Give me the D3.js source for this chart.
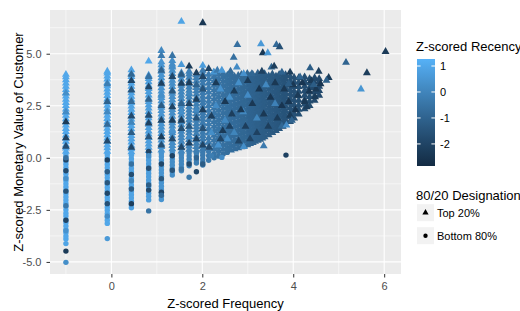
<!DOCTYPE html>
<html><head><meta charset="utf-8">
<script src="https://cdn.jsdelivr.net/npm/d3@7"></script>
<style>
html,body{margin:0;padding:0;background:#fff;}
svg{display:block;font-family:"Liberation Sans",Arial,Helvetica,sans-serif;}
</style></head><body>
<svg id="chart" width="520" height="311"></svg>
<script>
// ---- tick labels / text ----
const xTicks = [0, 2, 4, 6];
const xMinor = [-1, 1, 3, 5];
const yTicks = [-5, -2.5, 0, 2.5, 5];
const yMinor = [-3.75, -1.25, 1.25, 3.75, 6.25];
const recencyTicks = [1, 0, -1, -2];
const recencyLabels = ["1", "0", "-1", "-2"];
const designationLabels = ["Top 20%", "Bottom 80%"];

// ---- data: stacked columns (discrete frequency levels) ----
const stackLevels = [-1.00, -0.09, 0.44, 0.82, 1.10, 1.34, 1.54, 1.71, 1.87, 2.01,
  2.14, 2.26, 2.36, 2.46, 2.55, 2.63, 2.71, 2.79, 2.86, 2.92, 2.99, 3.05, 3.11, 3.16, 3.22,
  3.27, 3.32, 3.37, 3.46, 3.54, 3.62, 3.69, 3.77, 3.83, 3.93, 4.02, 4.12, 4.25, 4.36, 4.47, 4.57];
const stackRecency = [1.0, 0.95, 0.85, 0.7, 0.45, 0.25, 0.05, -0.1, -0.2, -0.3,
  -0.3, -0.45, -0.5, -0.6, -0.65, -0.7, -0.75, -0.8, -0.85, -0.9, -0.9, -1.0, -1.0, -1.05, -1.1,
  -1.1, -1.15, -1.2, -1.25, -1.3, -1.35, -1.4, -1.45, -1.5, -1.55, -1.6, -1.65, -1.7, -1.75, -1.8, -1.85];
// Bottom 80% (circles) monetary values per column
const stackBottom = [
  [-3.9,-3.76,-3.6,-3.45,-3.28,-3.12,-2.97,-2.8,-2.66,-2.5,-2.34,-2.18,-2.03,-1.88,-1.72,-1.56,-1.4,-1.25,-1.1,-0.94,-0.78,-0.62,-0.47,-0.31,-0.16,0.0,0.14],
  [-3.15,-3.0,-2.84,-2.68,-2.52,-2.37,-2.21,-2.05,-1.9,-1.74,-1.58,-1.42,-1.27,-1.11,-0.95,-0.8,-0.64,-0.48,-0.32,-0.17,-0.01,0.15],
  [-2.4,-2.25,-2.09,-1.93,-1.77,-1.62,-1.46,-1.3,-1.14,-0.99,-0.83,-0.67,-0.51,-0.36,-0.2,-0.04,0.12],
  [-2.02,-1.85,-1.7,-1.54,-1.38,-1.22,-1.07,-0.91,-0.75,-0.6,-0.44,-0.28,-0.12,0.03,0.18],
  [-2.0,-1.84,-1.68,-1.52,-1.36,-1.2,-1.05,-0.89,-0.73,-0.57,-0.41,-0.26,-0.1,0.06,0.21],
  [-0.83,-0.68,-0.52,-0.36,-0.2,-0.05,0.11,0.26],
  [-0.62,-0.47,-0.31,-0.15,0.0,0.16],
  [-0.38,-0.23,-0.07,0.09,0.24],
  [-0.25,-0.1,0.06,0.22],
  [-0.35,-0.2,-0.04,0.12,0.27],
  [-0.12,0.1,0.3],
  [0.0,0.2],
  [0.08,0.3],
  [0.18],
  [0.26],
  [],[],[],[],[],[],[],[],[],[],[],[],[],[],[],[],[],[],[],[],[],[],[],[],[],[]
];
// Top 20% (triangles) monetary values per column
const stackTop = [
  [0.3,0.46,0.62,0.78,0.93,1.09,1.25,1.4,1.56,1.72,1.87,2.03,2.18,2.34,2.5,2.65,2.8,2.96,3.12,3.27,3.43,3.58,3.74,3.88,4.0],
  [0.31,0.47,0.62,0.78,0.94,1.1,1.25,1.41,1.57,1.72,1.88,2.04,2.2,2.35,2.51,2.67,2.82,2.98,3.14,3.3,3.45,3.61,3.77,3.92,4.06,4.15],
  [0.28,0.43,0.59,0.75,0.91,1.06,1.22,1.38,1.54,1.69,1.85,2.01,2.17,2.32,2.48,2.64,2.8,2.95,3.11,3.27,3.43,3.58,3.74,3.9,4.05,4.22],
  [0.34,0.5,0.65,0.81,0.97,1.13,1.28,1.44,1.6,1.75,1.91,2.07,2.22,2.38,2.54,2.7,2.85,3.01,3.17,3.32,3.48,3.64,3.8,3.96],
  [0.37,0.53,0.68,0.84,1.0,1.16,1.31,1.47,1.63,1.79,1.94,2.1,2.26,2.42,2.57,2.73,2.89,3.05,3.2,3.36,3.52,3.68,3.83,3.99,4.15,4.3,4.46,4.6],
  [0.42,0.58,0.73,0.89,1.05,1.21,1.36,1.52,1.68,1.84,1.99,2.15,2.31,2.46,2.62,2.78,2.94,3.09,3.25,3.41,3.57,3.72,3.88,4.04,4.2,4.35,4.5,4.66],
  [0.32,0.47,0.63,0.79,0.95,1.1,1.26,1.42,1.58,1.73,1.89,2.05,2.21,2.36,2.52,2.68,2.84,2.99,3.15,3.31,3.47,3.62,3.78,3.94,4.08],
  [0.4,0.56,0.71,0.87,1.03,1.19,1.34,1.5,1.66,1.82,1.97,2.13,2.29,2.44,2.6,2.76,2.92,3.07,3.23,3.39,3.55,3.7,3.86,4.02,4.15],
  [0.37,0.53,0.69,0.85,1.0,1.16,1.32,1.48,1.63,1.79,1.95,2.11,2.26,2.42,2.58,2.74,2.89,3.05,3.21,3.37,3.52,3.68,3.84,3.98],
  [0.43,0.58,0.74,0.9,1.06,1.22,1.37,1.53,1.69,1.85,2.0,2.16,2.32,2.48,2.63,2.79,2.95,3.11,3.26,3.42,3.58,3.74,3.89,4.04,4.2],
  [0.52,0.74,0.95,1.18,1.4,1.62,1.83,2.05,2.27,2.5,2.71,2.92,3.15,3.37,3.58,3.8,4.0],
  [0.42,0.63,0.85,1.07,1.3,1.51,1.73,1.95,2.16,2.38,2.6,2.82,3.04,3.26,3.47,3.69,3.9,4.08],
  [0.52,0.74,0.96,1.18,1.4,1.61,1.83,2.05,2.27,2.49,2.7,2.92,3.14,3.36,3.57,3.79,4.0],
  [0.4,0.62,0.84,1.06,1.27,1.49,1.71,1.93,2.15,2.37,2.58,2.8,3.02,3.24,3.46,3.67,3.88,4.05],
  [0.48,0.7,0.92,1.13,1.35,1.57,1.79,2.01,2.22,2.44,2.66,2.88,3.1,3.31,3.53,3.75,3.96],
  [0.36,0.58,0.8,1.02,1.24,1.45,1.67,1.89,2.11,2.33,2.54,2.76,2.98,3.2,3.42,3.63,3.85,4.03],
  [0.42,0.64,0.86,1.08,1.3,1.51,1.73,1.95,2.17,2.39,2.6,2.82,3.04,3.26,3.48,3.69,3.9],
  [0.47,0.69,0.91,1.12,1.34,1.56,1.78,2.0,2.21,2.43,2.65,2.87,3.09,3.3,3.52,3.74,3.95],
  [0.52,0.74,0.95,1.17,1.39,1.61,1.83,2.04,2.26,2.48,2.7,2.92,3.13,3.35,3.57,3.79,4.0],
  [0.56,0.78,1.0,1.22,1.44,1.65,1.87,2.09,2.31,2.53,2.74,2.96,3.18,3.4,3.62,3.83],
  [0.62,0.84,1.05,1.27,1.49,1.71,1.93,2.14,2.36,2.58,2.8,3.02,3.23,3.45,3.67,3.89,4.05],
  [0.68,0.9,1.12,1.33,1.55,1.77,1.99,2.2,2.42,2.64,2.86,3.08,3.29,3.51,3.73,3.94],
  [0.73,0.95,1.17,1.38,1.6,1.82,2.04,2.26,2.47,2.69,2.91,3.13,3.35,3.56,3.78,4.0],
  [0.78,1.0,1.22,1.43,1.65,1.87,2.09,2.3,2.52,2.74,2.96,3.18,3.39,3.61,3.83],
  [0.83,1.05,1.27,1.49,1.7,1.92,2.14,2.36,2.58,2.79,3.01,3.23,3.45,3.66,3.88,4.06],
  [0.88,1.1,1.32,1.53,1.75,1.97,2.19,2.41,2.62,2.84,3.06,3.28,3.49,3.71,3.93],
  [0.94,1.15,1.37,1.59,1.81,2.02,2.24,2.46,2.68,2.9,3.11,3.33,3.55,3.77,3.98],
  [1.0,1.22,1.44,1.65,1.87,2.09,2.31,2.53,2.74,2.96,3.18,3.4,3.61,3.83,4.04],
  [1.1,1.32,1.54,1.75,1.97,2.19,2.41,2.62,2.84,3.06,3.28,3.5,3.71,3.93],
  [1.2,1.42,1.63,1.85,2.07,2.29,2.51,2.72,2.94,3.16,3.38,3.6,3.81,4.02],
  [1.3,1.52,1.74,1.95,2.17,2.39,2.61,2.82,3.04,3.26,3.48,3.7,3.91],
  [1.4,1.62,1.83,2.05,2.27,2.49,2.71,2.92,3.14,3.36,3.58,3.8,4.0],
  [1.5,1.72,1.94,2.15,2.37,2.59,2.81,3.02,3.24,3.46,3.68,3.9],
  [1.6,1.82,2.03,2.25,2.47,2.69,2.91,3.12,3.34,3.56,3.78,3.99],
  [1.74,1.96,2.18,2.39,2.61,2.83,3.05,3.27,3.48,3.7,3.92],
  [1.9,2.12,2.33,2.55,2.77,2.99,3.2,3.42,3.64,3.86],
  [2.1,2.32,2.53,2.75,2.97,3.19,3.41,3.62,3.84],
  [2.35,2.57,2.78,3.0,3.22,3.44,3.66,3.88],
  [2.5,2.72,2.93,3.15,3.37,3.59,3.8],
  [2.75,2.97,3.18,3.4,3.62,3.84],
  [3.0,3.22,3.43,3.65,3.8]
];
// individually read points: [frequency, monetary, recency, top20 (1) / bottom80 (0)]
const extraPoints = [
  [-1,-5.02,0.3,0],[-1,-4.48,-2.3,0],[-1,-4.12,0.9,0],[-1,-3.0,-2.0,0],[-1,-2.3,-0.4,0],[-1,-1.6,-1.5,0],
  [-1,-0.62,-1.8,0],[-1,-0.1,-2.0,0],[-1,0.0,-0.6,0],[-1,0.55,-1.7,1],[-1,0.95,-2.0,1],[-1,1.72,-2.3,1],
  [-1,2.2,0.2,1],[-1,3.1,0.3,1],[-1,-3.5,0.4,0],[-1,-1.0,0.3,0],
  [-0.09,-3.88,0.6,0],[-0.09,-2.2,-1.6,0],[-0.09,-1.7,-1.9,0],[-0.09,-1.2,-1.4,0],[-0.09,-0.67,-1.2,0],
  [-0.09,-0.1,-2.1,0],[-0.09,0.8,-1.8,1],[-0.09,1.6,-0.8,1],[-0.09,2.7,-1.0,1],[-0.09,3.55,-0.2,1],
  [-0.09,-2.8,0.2,0],[-0.09,2.2,0.1,1],
  [0.44,-2.2,-2.2,0],[0.44,-1.5,-1.3,0],[0.44,-0.8,-1.7,0],[0.44,-0.3,-0.6,0],[0.44,0.5,-1.9,1],
  [0.44,1.2,-1.2,1],[0.44,2.0,-1.8,1],[0.44,2.7,-0.8,1],[0.44,3.25,-1.5,1],[0.44,3.7,-2.0,1],
  [0.44,4.0,-0.9,1],[0.44,1.7,0.0,1],[0.44,-1.1,0.0,0],
  [0.82,-2.55,-0.5,0],[0.82,4.64,1.0,1],[0.82,-1.55,-1.8,0],[0.82,-1.3,-1.2,0],[0.82,-0.5,-1.6,0],
  [0.82,0.3,-2.0,0],[0.82,1.0,-1.4,1],[0.82,1.66,-2.1,1],[0.82,2.04,-1.7,1],[0.82,2.8,-1.0,1],
  [0.82,3.4,-1.9,1],[0.82,3.9,-0.6,1],[0.82,0.1,0.3,0],
  [1.10,5.15,0.1,1],[1.10,4.91,-0.3,1],[1.10,-1.65,-2.0,0],[1.10,-1.8,-0.8,0],[1.10,-1.0,-1.4,0],
  [1.10,-0.3,-1.9,0],[1.10,0.6,-1.7,1],[1.10,1.0,-2.2,1],[1.10,1.8,-1.9,1],[1.10,2.5,-1.2,1],
  [1.10,3.57,-2.1,1],[1.10,4.2,-1.0,1],[1.10,3.0,0.3,1],
  [1.34,4.91,-0.5,1],[1.34,-0.6,-1.5,0],[1.34,0.1,-2.0,0],[1.34,0.9,-1.8,1],[1.34,1.8,-2.2,1],
  [1.34,2.44,-2.0,1],[1.34,3.2,-1.4,1],[1.34,3.9,-1.9,1],[1.34,4.4,0.2,1],[1.34,1.3,0.4,1],
  [1.54,6.55,0.9,1],[1.54,4.47,0.6,1],[1.54,-0.55,-0.5,0],[1.54,0.5,-1.9,1],[1.54,1.4,-1.6,1],
  [1.54,1.8,-2.2,1],[1.54,2.6,-1.0,1],[1.54,3.57,-2.1,1],[1.54,4.0,-1.3,1],[1.54,2.2,0.3,1],
  [1.71,-0.93,-0.4,0],[1.71,4.4,-2.3,1],[1.71,-0.3,-1.8,0],[1.71,0.7,-2.1,1],[1.71,1.5,-1.4,1],
  [1.71,2.6,-2.0,1],[1.71,3.6,-2.2,1],[1.71,3.1,0.0,1],[1.71,1.0,0.2,1],
  [1.87,-0.67,-1.9,0],[1.87,4.07,-2.2,1],[1.87,0.0,-1.0,0],[1.87,0.9,-2.0,1],[1.87,1.9,-1.5,1],
  [1.87,2.8,-2.2,1],[1.87,3.5,-1.0,1],[1.87,2.3,0.1,1],
  [2.01,6.48,-2.4,1],[2.01,4.43,0.7,1],[2.01,-0.3,-1.2,0],[2.01,0.6,-2.0,1],[2.01,1.4,-1.6,1],
  [2.01,2.3,-2.2,1],[2.01,3.3,-1.5,1],[2.01,3.9,-2.0,1],
  // inside the dense cloud
  [2.2,1.2,0.3,1],[2.3,2.5,0.2,1],[2.4,3.3,0.4,1],[2.5,1.8,0.1,1],[2.6,2.9,0.3,1],[2.7,1.2,0.0,1],
  [2.8,3.6,0.3,1],[2.9,2.2,0.1,1],[3.0,3.0,0.2,1],[3.2,1.9,0.0,1],[3.4,3.5,0.1,1],[3.6,2.6,-0.1,1],
  [2.35,0.6,0.4,1],[2.55,0.9,0.3,1],
  [2.2,2.0,-2.2,1],[2.3,3.6,-2.3,1],[2.4,0.9,-2.0,1],[2.5,2.7,-2.4,1],[2.6,1.5,-2.1,1],[2.7,3.2,-2.3,1],
  [2.8,0.8,-2.0,1],[2.85,2.3,-2.4,1],[2.95,1.5,-2.2,1],[3.0,3.7,-2.3,1],[3.1,2.6,-2.4,1],[3.2,1.2,-2.1,1],
  [3.25,3.3,-2.5,1],[3.35,2.1,-2.4,1],[3.45,1.5,-2.2,1],[3.5,2.9,-2.5,1],[3.6,3.6,-2.4,1],[3.65,1.9,-2.3,1],
  [3.75,2.5,-2.5,1],[3.8,3.3,-2.4,1],[3.9,2.7,-2.5,1],[4.0,3.5,-2.4,1],[4.05,2.3,-2.5,1],[4.1,3.0,-2.3,1],
  [4.2,3.6,-2.5,1],[4.25,2.7,-2.4,1],[4.35,3.2,-2.5,1],[4.4,3.7,-2.3,1],[4.5,3.3,-2.4,1],[4.6,3.55,-2.5,1],
  [2.15,0.5,-1.8,1],[2.45,1.3,-2.3,1],[2.65,2.1,-2.2,1],[3.05,0.9,-2.0,1],
  // upper edge and outliers
  [2.25,4.11,0.5,1],[2.33,4.2,-0.3,1],[2.43,4.2,0.6,1],[2.14,4.28,-2.0,1],[2.62,4.16,-0.8,1],
  [2.76,4.35,0.2,1],[2.91,4.04,0.4,1],[3.09,4.04,-0.9,1],[3.31,4.15,-2.1,1],[3.52,4.35,-0.9,1],
  [3.58,4.40,-2.2,1],[3.75,4.11,-1.0,1],[3.93,4.11,-2.2,1],[3.9,3.56,-1.2,1],[4.15,3.88,-1.0,1],
  [4.45,3.51,-1.2,1],[4.48,2.92,-2.3,1],[4.3,2.44,-2.2,1],[3.93,2.04,-2.3,1],[3.97,1.8,-1.0,1],
  [3.75,1.52,-0.9,1],[3.85,1.56,0.2,1],[3.35,0.57,-0.3,1],[3.84,0.13,-2.1,0],[2.91,0.53,0.3,1],
  [2.43,0.02,0.2,0],[2.2,0.1,-0.2,0],
  [2.77,5.43,-0.6,1],[3.29,5.47,0.6,1],[3.63,5.43,-0.8,1],[3.70,5.33,-1.6,1],[2.69,4.82,-0.6,1],
  [3.33,5.04,-2.4,1],[3.44,5.04,0.6,1],[6.03,5.10,-2.3,1],[5.16,4.58,-1.0,1],[5.62,4.08,-2.2,1],
  [5.49,3.30,0.5,1],[4.56,4.15,-2.2,1],[4.37,4.31,-1.2,1],[4.78,3.85,-2.3,1],[4.73,3.72,-1.1,1]
];

// ---- chart ----
const svg = d3.select("#chart");
const FONT = '"Liberation Sans", Arial, Helvetica, sans-serif';
const P = {l: 50, r: 401, t: 10, b: 274};
const x = d3.scaleLinear().domain([-1.35, 6.37]).range([P.l, P.r]);
const y = d3.scaleLinear().domain([-5.58, 7.1]).range([P.b, P.t]);
const color = d3.scaleLinear().domain([-2.85, 1.27]).range(["#132B43", "#56B1F7"])
  .interpolate(d3.interpolateLab).clamp(true);

svg.append("rect").attr("x", P.l).attr("y", P.t).attr("width", P.r - P.l).attr("height", P.b - P.t)
  .attr("fill", "#EBEBEB");
const grid = svg.append("g");
grid.selectAll(".vmin").data(xMinor).join("line").attr("x1", d => x(d)).attr("x2", d => x(d))
  .attr("y1", P.t).attr("y2", P.b).attr("stroke", "#fff").attr("stroke-width", 0.55);
grid.selectAll(".hmin").data(yMinor).join("line").attr("y1", d => y(d)).attr("y2", d => y(d))
  .attr("x1", P.l).attr("x2", P.r).attr("stroke", "#fff").attr("stroke-width", 0.55);
grid.selectAll(".vmaj").data(xTicks).join("line").attr("x1", d => x(d)).attr("x2", d => x(d))
  .attr("y1", P.t).attr("y2", P.b).attr("stroke", "#fff").attr("stroke-width", 1.1);
grid.selectAll(".hmaj").data(yTicks).join("line").attr("y1", d => y(d)).attr("y2", d => y(d))
  .attr("x1", P.l).attr("x2", P.r).attr("stroke", "#fff").attr("stroke-width", 1.1);

const pts = [];
stackLevels.forEach((f, i) => {
  stackBottom[i].forEach(m => pts.push({f, m, r: stackRecency[i], top: false}));
  stackTop[i].forEach(m => pts.push({f, m, r: stackRecency[i], top: true}));
});
extraPoints.forEach(([f, m, r, t]) => pts.push({f, m, r, top: t === 1}));

const triPath = d3.symbol().type(d3.symbolTriangle).size(27)();
const cirPath = d3.symbol().type(d3.symbolCircle).size(23)();
svg.append("defs").append("clipPath").attr("id", "panel").append("rect")
  .attr("x", P.l).attr("y", P.t).attr("width", P.r - P.l).attr("height", P.b - P.t);
svg.append("g").attr("clip-path", "url(#panel)").selectAll("path").data(pts).join("path")
  .attr("d", d => d.top ? triPath : cirPath)
  .attr("transform", d => `translate(${x(d.f)},${y(d.m)})`)
  .attr("fill", d => color(d.r));

// axes
const xAxis = svg.append("g").attr("transform", `translate(0,${P.b})`)
  .call(d3.axisBottom(x).tickValues(xTicks).tickSize(3.5).tickPadding(5).tickFormat(d => String(d)));
const yAxis = svg.append("g").attr("transform", `translate(${P.l},0)`)
  .call(d3.axisLeft(y).tickValues(yTicks).tickSize(3.5).tickPadding(5).tickFormat(d => d.toFixed(1)));
[xAxis, yAxis].forEach(a => {
  a.select(".domain").remove();
  a.attr("font-family", FONT).attr("font-size", 11);
  a.selectAll("line").attr("stroke", "#333333").attr("stroke-width", 1);
  a.selectAll("text").attr("fill", "#4D4D4D");
});

svg.append("text").attr("x", (P.l + P.r) / 2).attr("y", 308).attr("text-anchor", "middle")
  .attr("font-size", 13).attr("fill", "#000").text("Z-scored Frequency");
svg.append("text").attr("transform", `translate(23,${(P.t + P.b) / 2}) rotate(-90)`)
  .attr("text-anchor", "middle").attr("font-size", 13).attr("fill", "#000")
  .text("Z-scored Monetary Value of Customer");

// colour legend
const lg = svg.append("g");
lg.append("text").attr("x", 416).attr("y", 51).attr("font-size", 13).attr("fill", "#000").text("Z-scored Recency");
const bar = {x: 417, y: 59, w: 18, h: 107};
const cy = d3.scaleLinear().domain([-2.85, 1.27]).range([bar.y + bar.h, bar.y]);
const grad = svg.select("defs").append("linearGradient").attr("id", "recGrad")
  .attr("x1", 0).attr("y1", 1).attr("x2", 0).attr("y2", 0);
d3.range(0, 21).forEach(i => {
  const t = i / 20;
  grad.append("stop").attr("offset", t).attr("stop-color", color(-2.85 + t * 4.12));
});
lg.append("rect").attr("x", bar.x).attr("y", bar.y).attr("width", bar.w).attr("height", bar.h).attr("fill", "url(#recGrad)");
recencyTicks.forEach((v, i) => {
  const yy = cy(v);
  lg.append("line").attr("x1", bar.x).attr("x2", bar.x + 3.6).attr("y1", yy).attr("y2", yy).attr("stroke", "#fff").attr("stroke-width", 1);
  lg.append("line").attr("x1", bar.x + bar.w - 3.6).attr("x2", bar.x + bar.w).attr("y1", yy).attr("y2", yy).attr("stroke", "#fff").attr("stroke-width", 1);
  lg.append("text").attr("x", 440).attr("y", yy).attr("dy", "0.36em").attr("font-size", 11).attr("fill", "#000").text(recencyLabels[i]);
});

// shape legend
lg.append("text").attr("x", 416).attr("y", 199.5).attr("font-size", 13).attr("fill", "#000").text("80/20 Designation");
const keyY = [212.7, 235.7];
const legTri = d3.symbol().type(d3.symbolTriangle).size(17)();
const legCir = d3.symbol().type(d3.symbolCircle).size(15)();
designationLabels.forEach((lab, i) => {
  lg.append("rect").attr("x", 417).attr("y", keyY[i] - 8.5).attr("width", 17).attr("height", 17).attr("fill", "#F2F2F2");
  lg.append("path").attr("d", i === 0 ? legTri : legCir).attr("transform", `translate(425.5,${keyY[i]})`).attr("fill", "#000");
  lg.append("text").attr("x", 437).attr("y", keyY[i]).attr("dy", "0.36em").attr("font-size", 11).attr("fill", "#000").text(lab);
});
</script>
</body></html>
